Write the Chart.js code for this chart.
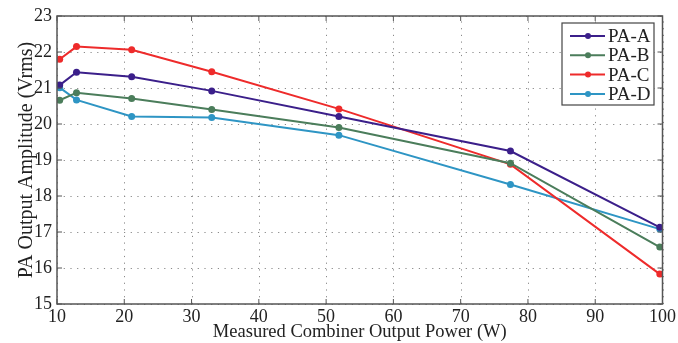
<!DOCTYPE html>
<html>
<head>
<meta charset="utf-8">
<script src="https://cdn.jsdelivr.net/npm/chart.js@4.4.0/dist/chart.umd.min.js"></script>
<style>
  html, body { margin: 0; padding: 0; background: #fff; }
  #wrap { width: 678px; height: 343px; }
</style>
</head>
<body>
<div id="wrap"><canvas id="paChart" width="678" height="343"></canvas></div>
<script>
const power = [10.4, 12.9, 21.1, 33.0, 51.9, 77.4, 99.6];
const paA = [21.08, 21.44, 21.31, 20.92, 20.21, 19.25, 17.13];
const paB = [20.66, 20.87, 20.71, 20.40, 19.90, 18.91, 16.58];
const paC = [21.80, 22.15, 22.06, 21.45, 20.42, 18.88, 15.83];
const paD = [21.01, 20.67, 20.21, 20.18, 19.69, 18.32, 17.08];
const names = ["PA-A", "PA-B", "PA-C", "PA-D"];
const colors = ["#3b1f8a", "#4b7d5b", "#ee2b2b", "#2e95c4"];

const family = "'Liberation Serif', 'Times New Roman', serif";
const tickFont = { family: family, size: 18 };

function series(vals) {
  return vals.map((v, i) => ({ x: power[i], y: v }));
}

// dotted grid under the lines
const gridPlugin = {
  id: "dotgrid",
  beforeDatasetsDraw(chart) {
    const { ctx, chartArea: a, scales } = chart;
    ctx.save();
    ctx.strokeStyle = "#8a8a8a";
    ctx.lineWidth = 1;
    ctx.setLineDash([1.2, 5.5]);
    scales.x.ticks.forEach(t => {
      const px = Math.round(scales.x.getPixelForValue(t.value)) + 0.5;
      ctx.beginPath();
      ctx.moveTo(px, a.bottom); ctx.lineTo(px, a.top);
      ctx.stroke();
    });
    scales.y.ticks.forEach(t => {
      const py = Math.round(scales.y.getPixelForValue(t.value)) + 0.5;
      ctx.beginPath();
      ctx.moveTo(a.left, py); ctx.lineTo(a.right, py);
      ctx.stroke();
    });
    ctx.restore();
  }
};

// frame, inward ticks and the legend box
const framePlugin = {
  id: "frame",
  afterDraw(chart) {
    const { ctx, chartArea: a, scales } = chart;
    ctx.save();
    ctx.strokeStyle = "#555";
    ctx.lineWidth = 1.5;
    ctx.strokeRect(a.left, a.top, a.right - a.left, a.bottom - a.top);
    ctx.lineWidth = 1;
    scales.x.ticks.forEach(t => {
      const px = scales.x.getPixelForValue(t.value);
      ctx.beginPath();
      ctx.moveTo(px, a.bottom); ctx.lineTo(px, a.bottom - 5);
      ctx.moveTo(px, a.top); ctx.lineTo(px, a.top + 5);
      ctx.stroke();
    });
    scales.y.ticks.forEach(t => {
      const py = scales.y.getPixelForValue(t.value);
      ctx.beginPath();
      ctx.moveTo(a.left, py); ctx.lineTo(a.left + 5, py);
      ctx.moveTo(a.right, py); ctx.lineTo(a.right - 5, py);
      ctx.stroke();
    });

    // legend
    const lx = 562, ly = 23, lw = 92, lh = 82;
    ctx.fillStyle = "#fff";
    ctx.fillRect(lx, ly, lw, lh);
    ctx.strokeStyle = "#444";
    ctx.lineWidth = 1.2;
    ctx.strokeRect(lx, ly, lw, lh);
    ctx.font = "19px " + family;
    ctx.textBaseline = "middle";
    names.forEach((n, i) => {
      const y = ly + 13 + i * 19.3;
      ctx.strokeStyle = colors[i];
      ctx.fillStyle = colors[i];
      ctx.lineWidth = 2;
      ctx.beginPath();
      ctx.moveTo(lx + 8, y); ctx.lineTo(lx + 43, y);
      ctx.stroke();
      ctx.beginPath();
      ctx.arc(lx + 26, y, 3, 0, Math.PI * 2);
      ctx.fill();
      ctx.fillStyle = "#222";
      ctx.fillText(n, lx + 46, y + 1);
    });
    ctx.restore();
  }
};

new Chart(document.getElementById("paChart"), {
  type: "line",
  data: {
    datasets: [paA, paB, paC, paD].map((vals, i) => ({
      label: names[i],
      data: series(vals),
      borderColor: colors[i],
      backgroundColor: colors[i],
      borderWidth: 2,
      pointRadius: 3.5,
      pointBorderWidth: 0,
      tension: 0
    }))
  },
  options: {
    responsive: false,
    animation: false,
    layout: { padding: { top: 16, right: 11, left: 0, bottom: 0 } },
    plugins: {
      legend: { display: false },
      tooltip: { enabled: false }
    },
    scales: {
      x: {
        type: "linear",
        min: 10,
        max: 100,
        ticks: { stepSize: 10, color: "#222", font: tickFont, padding: 2, maxRotation: 0 },
        grid: { display: false, drawTicks: false },
        border: { display: false },
        title: { display: true, text: "Measured Combiner Output Power (W)", color: "#222", font: { family: family, size: 18.5 }, padding: { top: 0, bottom: 0 } },
        afterFit(s) { s.height = 39; }
      },
      y: {
        min: 15,
        max: 23,
        ticks: { stepSize: 1, color: "#222", font: tickFont, padding: 5 },
        grid: { display: false, drawTicks: false },
        border: { display: false },
        title: { display: true, text: "PA Output Amplitude (Vrms)", color: "#222", font: { family: family, size: 20 }, padding: { top: 15, bottom: 0 } },
        afterFit(s) { s.width = 57; }
      }
    }
  },
  plugins: [gridPlugin, framePlugin]
});
</script>
</body>
</html>
